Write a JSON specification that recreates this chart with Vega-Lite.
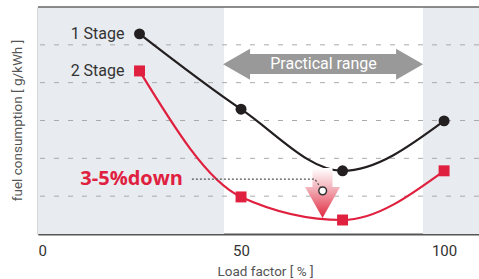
{
  "$schema": "https://vega.github.io/schema/vega-lite/v6.json",
  "width": 441,
  "height": 227,
  "autosize": {"type": "none"},
  "padding": {"left": 38, "top": 7, "right": 0, "bottom": 45},
  "config": {"view": {"stroke": null}, "font": "Roboto"},
  "datasets": {
    "bands": [{"x": 0, "x2": 45.8}, {"x": 94.8, "x2": 108.6}],
    "grid": [{"y": 1}, {"y": 2}, {"y": 3}, {"y": 4}, {"y": 5}],
    "top": [{"y": 6}],
    "series": [
      {"load": 25, "fc": 5.29, "stage": "1 Stage"},
      {"load": 50, "fc": 3.30, "stage": "1 Stage"},
      {"load": 75, "fc": 1.67, "stage": "1 Stage"},
      {"load": 100, "fc": 2.99, "stage": "1 Stage"},
      {"load": 25, "fc": 4.31, "stage": "2 Stage"},
      {"load": 50, "fc": 0.98, "stage": "2 Stage"},
      {"load": 75, "fc": 0.37, "stage": "2 Stage"},
      {"load": 100, "fc": 1.67, "stage": "2 Stage"}
    ],
    "rangebody": [{"x": 52, "x2": 89, "y": 4.76, "y2": 4.23}],
    "lefthead": [{"x": 45.57, "y": 4.49}],
    "righthead": [{"x": 94.83, "y": 4.49}],
    "rangelabel": [{"x": 70.3, "y": 4.49, "label": "Practical range"}],
    "downarrow": [{"x": 70.07, "y": 1.084}],
    "dotted": [{"x": 37.9, "y": 1.45}, {"x": 68.2, "y": 1.45}, {"x": 70.1, "y": 1.14}],
    "circle": [{"x": 70.1, "y": 1.14}],
    "downlabel": [{"x": 35.7, "y": 1.45, "label": "3-5%down"}]
  },
  "layer": [
    {
      "data": {"name": "bands"},
      "mark": {"type": "rect", "color": "#e8ebf0"},
      "encoding": {
        "x": {
          "field": "x", "type": "quantitative",
          "scale": {"domain": [0, 108.6], "nice": false, "zero": false},
          "axis": {
            "values": [0, 50, 100], "grid": false, "ticks": false,
            "labelFontSize": 15, "labelColor": "#333", "labelPadding": 9,
            "domainColor": "#555", "domainWidth": 2,
            "title": "Load factor [ % ]", "titleFontSize": 13.5, "titleFontWeight": "normal",
            "titleColor": "#555", "titleBaseline": "alphabetic", "titleY": 41, "titleX": 227
          }
        },
        "x2": {"field": "x2"},
        "y": {"datum": 0, "type": "quantitative",
          "scale": {"domain": [0, 6], "nice": false, "zero": false},
          "axis": {
            "labels": false, "ticks": false, "grid": false,
            "domainColor": "#555", "domainWidth": 1.5,
            "title": "fuel consumption [ g/kWh ]", "titleFontSize": 13.5, "titleFontWeight": "normal",
            "titleColor": "#555", "titlePadding": 14, "titleY": 113
          }
        },
        "y2": {"datum": 6}
      }
    },
    {
      "data": {"name": "grid"},
      "mark": {"type": "rule", "color": "#aaaaaa", "strokeWidth": 1, "strokeDash": [5, 9]},
      "encoding": {"y": {"field": "y", "type": "quantitative"}}
    },
    {
      "data": {"name": "top"},
      "mark": {"type": "rule", "color": "#666666", "strokeWidth": 1.5},
      "encoding": {"y": {"field": "y", "type": "quantitative"}}
    },
    {
      "data": {"name": "rangebody"},
      "mark": {"type": "rect", "color": "#999999"},
      "encoding": {
        "x": {"field": "x", "type": "quantitative"},
        "x2": {"field": "x2"},
        "y": {"field": "y", "type": "quantitative"},
        "y2": {"field": "y2"}
      }
    },
    {
      "data": {"name": "lefthead"},
      "mark": {"type": "point", "filled": true, "opacity": 1, "size": 2916, "color": "#999999", "shape": "M0,0L1,-0.574L1,0.574Z"},
      "encoding": {
        "x": {"field": "x", "type": "quantitative"},
        "y": {"field": "y", "type": "quantitative"}
      }
    },
    {
      "data": {"name": "righthead"},
      "mark": {"type": "point", "filled": true, "opacity": 1, "size": 2916, "color": "#999999", "shape": "M0,0L-1,-0.574L-1,0.574Z"},
      "encoding": {
        "x": {"field": "x", "type": "quantitative"},
        "y": {"field": "y", "type": "quantitative"}
      }
    },
    {
      "data": {"name": "rangelabel"},
      "mark": {"type": "text", "color": "#ffffff", "fontSize": 16, "font": "Roboto", "align": "center", "baseline": "middle"},
      "encoding": {
        "x": {"field": "x", "type": "quantitative"},
        "y": {"field": "y", "type": "quantitative"},
        "text": {"field": "label"}
      }
    },
    {
      "data": {"name": "series"},
      "mark": {"type": "line", "interpolate": "monotone", "strokeWidth": 2.2},
      "encoding": {
        "x": {"field": "load", "type": "quantitative"},
        "y": {"field": "fc", "type": "quantitative"},
        "color": {"field": "stage", "type": "nominal", "legend": null,
          "scale": {"domain": ["1 Stage", "2 Stage"], "range": ["#231f20", "#e0203f"]}}
      }
    },
    {
      "data": {"name": "series"},
      "mark": {"type": "point", "filled": true, "opacity": 1, "size": 120},
      "encoding": {
        "x": {"field": "load", "type": "quantitative"},
        "y": {"field": "fc", "type": "quantitative"},
        "color": {"field": "stage", "type": "nominal", "legend": null},
        "shape": {"field": "stage", "type": "nominal", "legend": null,
          "scale": {"domain": ["1 Stage", "2 Stage"], "range": ["circle", "square"]}}
      }
    },
    {
      "data": {"name": "series"},
      "transform": [{"filter": "datum.load == 25"}],
      "mark": {"type": "text", "color": "#333333", "fontSize": 16, "font": "Roboto", "align": "right", "baseline": "middle", "dx": -15},
      "encoding": {
        "x": {"field": "load", "type": "quantitative"},
        "y": {"field": "fc", "type": "quantitative"},
        "text": {"field": "stage"}
      }
    },
    {
      "data": {"name": "downarrow"},
      "mark": {
        "type": "point", "filled": true, "opacity": 1, "size": 2500, "strokeWidth": 0,
        "shape": "M-0.4,-1L0.4,-1L0.4,-0.24L0.7,-0.24L0,1L-0.7,-0.24L-0.4,-0.24Z",
        "fill": {"gradient": "linear", "x1": 0, "y1": 0, "x2": 0, "y2": 1,
          "stops": [{"offset": 0, "color": "#ffffff"}, {"offset": 0.4, "color": "#f3b3bb"}, {"offset": 1, "color": "#e0283f"}]}
      },
      "encoding": {
        "x": {"field": "x", "type": "quantitative"},
        "y": {"field": "y", "type": "quantitative"}
      }
    },
    {
      "data": {"name": "dotted"},
      "mark": {"type": "line", "color": "#555555", "strokeWidth": 1.3, "strokeDash": [2, 2]},
      "encoding": {
        "x": {"field": "x", "type": "quantitative"},
        "y": {"field": "y", "type": "quantitative"}
      }
    },
    {
      "data": {"name": "circle"},
      "mark": {"type": "point", "shape": "circle", "filled": false, "fill": "#ffffff", "fillOpacity": 1, "stroke": "#333333", "strokeWidth": 1.5, "opacity": 1, "size": 60},
      "encoding": {
        "x": {"field": "x", "type": "quantitative"},
        "y": {"field": "y", "type": "quantitative"}
      }
    },
    {
      "data": {"name": "downlabel"},
      "mark": {"type": "text", "color": "#e0203f", "fontSize": 20, "font": "Open Sans", "fontWeight": "bold", "align": "right", "baseline": "middle"},
      "encoding": {
        "x": {"field": "x", "type": "quantitative"},
        "y": {"field": "y", "type": "quantitative"},
        "text": {"field": "label"}
      }
    }
  ]
}
